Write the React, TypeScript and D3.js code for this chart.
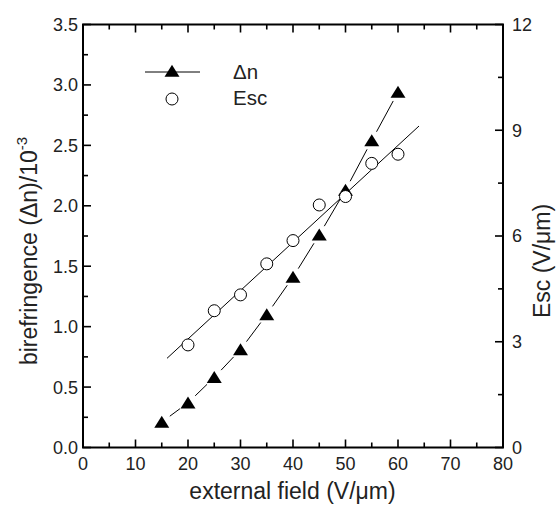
import * as d3 from 'd3';

// external field (V/um)
const fieldDn = [15, 20, 25, 30, 35, 40, 45, 50, 55, 60];
// birefringence (Δn)/10^-3
const dnValues = [0.21, 0.37, 0.58, 0.81, 1.1, 1.41, 1.76, 2.13, 2.54, 2.94];

const fieldEsc = [20, 25, 30, 35, 40, 45, 50, 55, 60];
// Esc (V/um)
const escValues = [2.91, 3.88, 4.33, 5.21, 5.87, 6.88, 7.12, 8.06, 8.32];

// linear fit drawn through Esc points (end points)
const escFitX = [16, 64];
const escFitY = [2.53, 9.12];

const xTickLabels = [0, 10, 20, 30, 40, 50, 60, 70, 80];
const yLeftTickLabels = ['0.0', '0.5', '1.0', '1.5', '2.0', '2.5', '3.0', '3.5'];
const yRightTickLabels = [0, 3, 6, 9, 12];

const WIDTH = 556;
const HEIGHT = 510;
const MARGIN = { top: 24.5, right: 53, bottom: 62.5, left: 83 };
const FONT = 'Liberation Sans, Arial, Helvetica, sans-serif';
const TEXT = '#222';

const App = () => {
  const boundsWidth = WIDTH - MARGIN.left - MARGIN.right;
  const boundsHeight = HEIGHT - MARGIN.top - MARGIN.bottom;

  const xScale = d3.scaleLinear().domain([0, 80]).range([0, boundsWidth]);
  const yLeft = d3.scaleLinear().domain([0, 3.5]).range([boundsHeight, 0]);
  const yRight = d3.scaleLinear().domain([0, 12]).range([boundsHeight, 0]);

  const xMinor = d3.range(0, 81, 5);
  const yLeftMinor = d3.range(0, 3.51, 0.25);
  const yRightMinor = d3.range(0, 12.1, 1.5);

  const triPath = (cx: number, cy: number) => {
    const s = 7.5;
    return `M${cx},${cy - s * 0.85}L${cx + s},${cy + s * 0.75}L${cx - s},${cy + s * 0.75}Z`;
  };

  // Δn connecting segments with gaps at the markers
  const gap = 10;
  const dnSegments = fieldDn.slice(1).map((f, i) => {
    const x0 = xScale(fieldDn[i]);
    const y0 = yLeft(dnValues[i]);
    const x1 = xScale(f);
    const y1 = yLeft(dnValues[i + 1]);
    const len = Math.hypot(x1 - x0, y1 - y0);
    const ux = (x1 - x0) / len;
    const uy = (y1 - y0) / len;
    return (
      <line
        key={`seg-${i}`}
        x1={x0 + ux * gap}
        y1={y0 + uy * gap}
        x2={x1 - ux * gap}
        y2={y1 - uy * gap}
        stroke="#000"
        strokeWidth={1}
      />
    );
  });

  return (
    <div style={{ position: 'fixed', left: 0, top: 0 }}>
      <svg width={WIDTH} height={HEIGHT} style={{ display: 'block', background: '#fff' }}>
        <g transform={`translate(${MARGIN.left},${MARGIN.top})`}>
          {/* x ticks bottom and top */}
          {xMinor.map(v => {
            const major = v % 10 === 0;
            const len = major ? 8 : 5;
            return (
              <g key={`xt-${v}`}>
                <line x1={xScale(v)} x2={xScale(v)} y1={boundsHeight} y2={boundsHeight - len} stroke="#000" strokeWidth={1.6} />
                <line x1={xScale(v)} x2={xScale(v)} y1={0} y2={len} stroke="#000" strokeWidth={1.6} />
              </g>
            );
          })}
          {xTickLabels.map(v => (
            <text key={`xl-${v}`} x={xScale(v)} y={470 - MARGIN.top} textAnchor="middle" fontSize={18} fontFamily={FONT} fill={TEXT}>
              {v}
            </text>
          ))}
          {/* left ticks */}
          {yLeftMinor.map((v, i) => {
            const len = i % 2 === 0 ? 8 : 5;
            return <line key={`yl-${i}`} x1={0} x2={len} y1={yLeft(v)} y2={yLeft(v)} stroke="#000" strokeWidth={1.6} />;
          })}
          {yLeftTickLabels.map(t => (
            <text key={`yll-${t}`} x={-5} y={yLeft(+t)} dy="0.36em" textAnchor="end" fontSize={18} fontFamily={FONT} fill={TEXT}>
              {t}
            </text>
          ))}
          {/* right ticks */}
          {yRightMinor.map((v, i) => {
            const len = i % 2 === 0 ? 8 : 5;
            return <line key={`yr-${i}`} x1={boundsWidth} x2={boundsWidth - len} y1={yRight(v)} y2={yRight(v)} stroke="#000" strokeWidth={1.6} />;
          })}
          {yRightTickLabels.map(t => (
            <text key={`yrl-${t}`} x={boundsWidth + 9} y={yRight(t)} dy="0.36em" textAnchor="start" fontSize={18} fontFamily={FONT} fill={TEXT}>
              {t}
            </text>
          ))}
          {/* frame */}
          <rect x={0} y={0} width={boundsWidth} height={boundsHeight} fill="none" stroke="#000" strokeWidth={2} />

          {/* Esc fit line */}
          <line
            x1={xScale(escFitX[0])}
            y1={yRight(escFitY[0])}
            x2={xScale(escFitX[1])}
            y2={yRight(escFitY[1])}
            stroke="#000"
            strokeWidth={1}
          />
          {dnSegments}
          {fieldDn.map((f, i) => (
            <path key={`tri-${f}`} d={triPath(xScale(f), yLeft(dnValues[i]))} fill="#000" />
          ))}
          {fieldEsc.map((f, i) => (
            <circle key={`c-${f}`} cx={xScale(f)} cy={yRight(escValues[i])} r={6} fill="#fff" stroke="#000" strokeWidth={1} />
          ))}

          {/* legend */}
          <line x1={145 - MARGIN.left} x2={200 - MARGIN.left} y1={72 - MARGIN.top} y2={72 - MARGIN.top} stroke="#000" strokeWidth={1} />
          <path d={triPath(172 - MARGIN.left, 71 - MARGIN.top)} fill="#000" />
          <text x={233 - MARGIN.left} y={79 - MARGIN.top} fontSize={20.5} fontFamily={FONT} fill={TEXT}>
            Δn
          </text>
          <circle cx={172 - MARGIN.left} cy={99 - MARGIN.top} r={6} fill="#fff" stroke="#000" strokeWidth={1} />
          <text x={233 - MARGIN.left} y={105 - MARGIN.top} fontSize={20.5} fontFamily={FONT} fill={TEXT}>
            Esc
          </text>
        </g>

        {/* axis titles */}
        <text x={292.5} y={499} textAnchor="middle" fontSize={23} fontFamily={FONT} fill={TEXT}>
          external field (V/μm)
        </text>
        <text transform="translate(37,251) rotate(-90)" textAnchor="middle" fontSize={23} fontFamily={FONT} fill={TEXT}>
          birefringence (Δn)/10
          <tspan fontSize={15} dy={-10}>-3</tspan>
        </text>
        <text transform="translate(550,261) rotate(-90)" textAnchor="middle" fontSize={23} fontFamily={FONT} fill={TEXT}>
          Esc (V/μm)
        </text>
      </svg>
    </div>
  );
};

export default App;
